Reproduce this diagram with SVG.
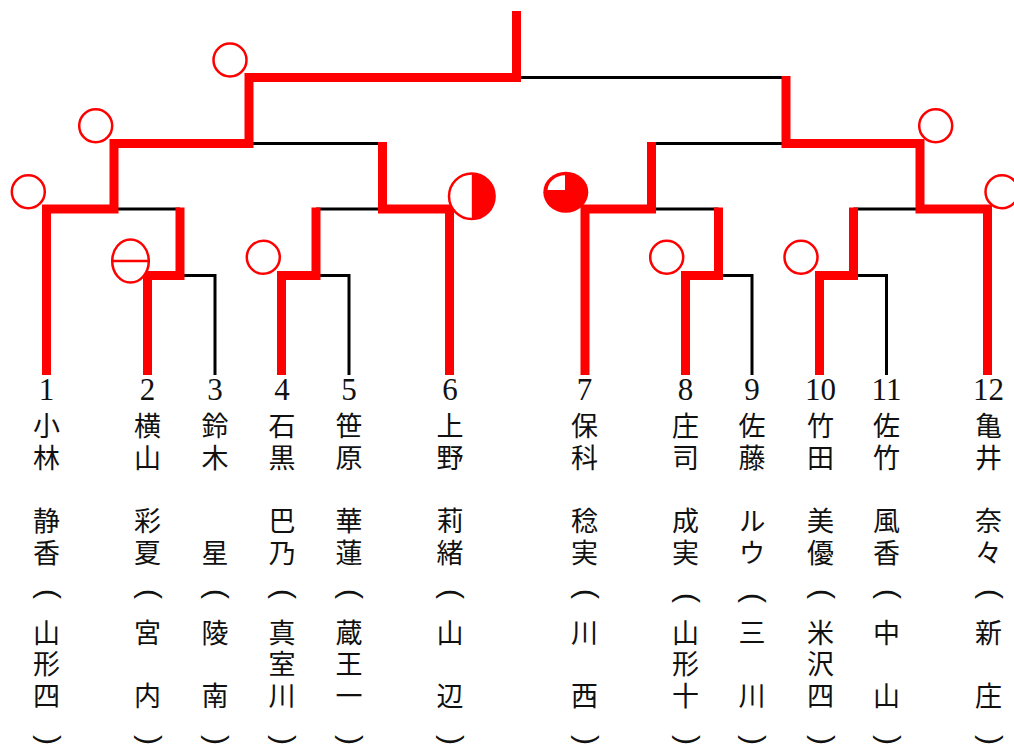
<svg xmlns="http://www.w3.org/2000/svg" width="1014" height="746" viewBox="0 0 1014 746">
<style>
.r{fill:none;stroke:#ff0000;stroke-width:9;stroke-linejoin:miter;stroke-linecap:butt}
.k{fill:none;stroke:#000;stroke-width:3;stroke-linecap:butt}
.c{fill:#fff;stroke:#ff0000;stroke-width:2.5}
.num{font-family:"Liberation Serif",serif;font-size:31px;text-anchor:middle;fill:#111}
.v{font-family:"Noto Sans CJK JP",sans-serif;font-size:27px;writing-mode:vertical-rl;letter-spacing:4.5px;fill:#111}
.p{font-family:"Liberation Sans",sans-serif;font-size:30px;text-anchor:middle;dominant-baseline:central;fill:#111}
</style>
<rect width="1014" height="746" fill="#fff"/>
<g id="connectors">
<path class="k" d="M516.5,77.5H786"/>
<path class="k" d="M249,143.5H382.5"/>
<path class="k" d="M651.5,143.5H786"/>
<path class="k" d="M114,209H180"/>
<path class="k" d="M316,209H382.5"/>
<path class="k" d="M651.5,209H718.5"/>
<path class="k" d="M853.5,209H920"/>
<path class="k" d="M180,275.5H215V375"/>
<path class="k" d="M316,275.5H349V375"/>
<path class="k" d="M718.5,275.5H752V375"/>
<path class="k" d="M853.5,275.5H886.5V375"/>
<path class="r" d="M516.5,11V77.5H249V143.5H114V209H46.5V375"/>
<path class="r" d="M147.5,375V275.5H180V207.5"/>
<path class="r" d="M281.5,375V275.5H316V207.5"/>
<path class="r" d="M382.5,142V209H449.5V375"/>
<path class="r" d="M786,76V143.5H920V209H987.5V375"/>
<path class="r" d="M651.5,142V209H585V375"/>
<path class="r" d="M685.5,375V275.5H718.5V207.5"/>
<path class="r" d="M819.5,375V275.5H853.5V207.5"/>
</g>
<g id="marks">
<circle class="c" cx="230" cy="60" r="16.5"/>
<circle class="c" cx="95.7" cy="125.7" r="16.5"/>
<circle class="c" cx="28.3" cy="191.7" r="16.5"/>
<g id="mark-minus"><ellipse class="c" cx="130.5" cy="261" rx="18.3" ry="21.5"/><path d="M112,261H149" stroke="#ff0000" stroke-width="2.5"/></g>
<circle class="c" cx="263.3" cy="257.3" r="16.5"/>
<g id="mark-half"><circle class="c" cx="471.8" cy="196.2" r="22.8"/><path d="M471.8,173.4A22.8,22.8 0 0 1 471.8,219Z" fill="#ff0000"/></g>
<g id="mark-quarter"><ellipse cx="565.8" cy="192.2" rx="22.5" ry="20.5" fill="#ff0000"/><path d="M565,190V175.2A18,15.5 0 0 0 547.5,190Z" fill="#fff"/></g>
<circle class="c" cx="935.7" cy="125.7" r="16.5"/>
<circle class="c" cx="1002" cy="191.7" r="16.5"/>
<circle class="c" cx="666.7" cy="257.3" r="16.5"/>
<circle class="c" cx="801" cy="257.3" r="16.5"/>
</g>
<g id="p1"><text class="num" x="46.5" y="400">1</text><text class="v" x="46.5" y="412.5">小林</text><text class="v" x="46.5" y="507.5">静香</text><text class="p" transform="translate(49,594) rotate(90)">(</text><text class="v" x="46.5" y="619">山形四</text><text class="p" transform="translate(49,740) rotate(90)">)</text></g>
<g id="p2"><text class="num" x="147.5" y="400">2</text><text class="v" x="147.5" y="412.5">横山</text><text class="v" x="147.5" y="507.5">彩夏</text><text class="p" transform="translate(150,594) rotate(90)">(</text><text class="v" x="147.5" y="619">宮　内</text><text class="p" transform="translate(150,740) rotate(90)">)</text></g>
<g id="p3"><text class="num" x="215" y="400">3</text><text class="v" x="215" y="412.5">鈴木</text><text class="v" x="215" y="539">星</text><text class="p" transform="translate(217.5,594) rotate(90)">(</text><text class="v" x="215" y="619">陵　南</text><text class="p" transform="translate(217.5,740) rotate(90)">)</text></g>
<g id="p4"><text class="num" x="282" y="400">4</text><text class="v" x="282" y="412.5">石黒</text><text class="v" x="282" y="507.5">巴乃</text><text class="p" transform="translate(284.5,594) rotate(90)">(</text><text class="v" x="282" y="619">真室川</text><text class="p" transform="translate(284.5,740) rotate(90)">)</text></g>
<g id="p5"><text class="num" x="349" y="400">5</text><text class="v" x="349" y="412.5">笹原</text><text class="v" x="349" y="507.5">華蓮</text><text class="p" transform="translate(351.5,594) rotate(90)">(</text><text class="v" x="349" y="619">蔵王一</text><text class="p" transform="translate(351.5,740) rotate(90)">)</text></g>
<g id="p6"><text class="num" x="450" y="400">6</text><text class="v" x="450" y="412.5">上野</text><text class="v" x="450" y="507.5">莉緒</text><text class="p" transform="translate(452.5,594) rotate(90)">(</text><text class="v" x="450" y="619">山　辺</text><text class="p" transform="translate(452.5,740) rotate(90)">)</text></g>
<g id="p7"><text class="num" x="584.5" y="400">7</text><text class="v" x="584.5" y="412.5">保科</text><text class="v" x="584.5" y="507.5">稔実</text><text class="p" transform="translate(587,594) rotate(90)">(</text><text class="v" x="584.5" y="619">川　西</text><text class="p" transform="translate(587,740) rotate(90)">)</text></g>
<g id="p8"><text class="num" x="685.5" y="400">8</text><text class="v" x="685.5" y="412.5">庄司</text><text class="v" x="685.5" y="507.5">成実</text><text class="p" transform="translate(688,598) rotate(90)">(</text><text class="v" x="685.5" y="619">山形十</text><text class="p" transform="translate(688,740) rotate(90)">)</text></g>
<g id="p9"><text class="num" x="752" y="400">9</text><text class="v" x="752" y="412.5">佐藤</text><text class="v" x="752" y="507.5">ルウ</text><text class="p" transform="translate(754.5,598) rotate(90)">(</text><text class="v" x="752" y="619">三　川</text><text class="p" transform="translate(754.5,740) rotate(90)">)</text></g>
<g id="p10"><text class="num" x="820.5" y="400">10</text><text class="v" x="820.5" y="412.5">竹田</text><text class="v" x="820.5" y="507.5">美優</text><text class="p" transform="translate(823,594) rotate(90)">(</text><text class="v" x="820.5" y="619">米沢四</text><text class="p" transform="translate(823,740) rotate(90)">)</text></g>
<g id="p11"><text class="num" x="886.5" y="400">11</text><text class="v" x="886.5" y="412.5">佐竹</text><text class="v" x="886.5" y="507.5">風香</text><text class="p" transform="translate(889,594) rotate(90)">(</text><text class="v" x="886.5" y="619">中　山</text><text class="p" transform="translate(889,740) rotate(90)">)</text></g>
<g id="p12"><text class="num" x="988.5" y="400">12</text><text class="v" x="988.5" y="412.5">亀井</text><text class="v" x="988.5" y="507.5">奈々</text><text class="p" transform="translate(991,594) rotate(90)">(</text><text class="v" x="988.5" y="619">新　庄</text><text class="p" transform="translate(991,740) rotate(90)">)</text></g>
</svg>
